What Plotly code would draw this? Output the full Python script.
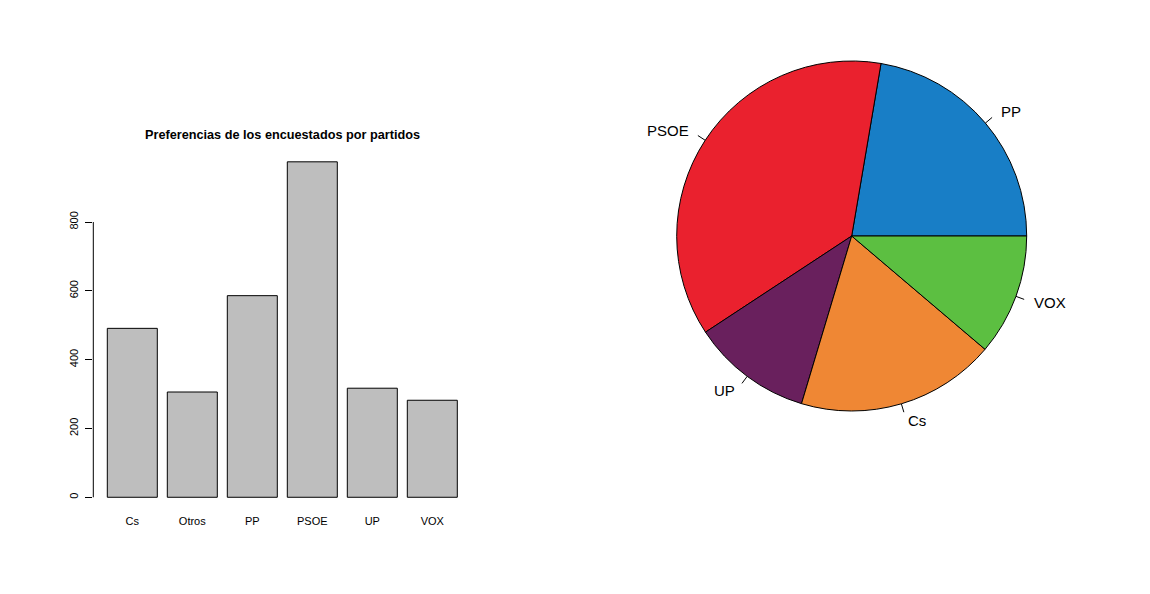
import math
import plotly.graph_objects as go

# bar chart data (respondents per party)
partidos = ["Cs", "Otros", "PP", "PSOE", "UP", "VOX"]
encuestados = [491, 306, 586, 975, 317, 282]
y_ticks = [0, 200, 400, 600, 800]

# pie data (share per party, Otros left out)
pie_partidos = ["PP", "PSOE", "UP", "Cs", "VOX"]
pie_valores = [22.3, 36.9, 11.1, 18.4, 11.2]
pie_colores = ["#187ec6", "#ea212e", "#69205d", "#ef8734", "#5cbf41"]

# page body has an 8px margin, so the figure is a bit smaller than the window
OFF = 8
W, H = 1150 - OFF, 594 - OFF
FONT = "Liberation Sans, Arial, sans-serif"


def px(p):
    return (p - OFF) / W


def py(p):
    return 1 - (p - OFF) / H


fig = go.Figure()

fig.add_trace(go.Bar(
    x=partidos, y=encuestados,
    marker=dict(color="#bebebe", line=dict(color="black", width=1)),
    xaxis="x", yaxis="y", showlegend=False, hoverinfo="x+y",
))

# pie in a 350 px square, first slice starting at 3 o'clock going counterclockwise
total = sum(pie_valores)
pie_dom_x = [px(676.7), px(1026.7)]
pie_dom_y = [py(411), py(61)]
fig.add_trace(go.Pie(
    labels=pie_partidos, values=pie_valores, sort=False,
    direction="counterclockwise", rotation=90 - 360 * pie_valores[0] / total,
    marker=dict(colors=pie_colores, line=dict(color="black", width=1)),
    textinfo="none", showlegend=False,
    domain=dict(x=pie_dom_x, y=pie_dom_y),
))

# R-style labels with short ticks around the pie
cx = (pie_dom_x[0] + pie_dom_x[1]) / 2
cy = (pie_dom_y[0] + pie_dom_y[1]) / 2
rx = (pie_dom_x[1] - pie_dom_x[0]) / 2
ry = (pie_dom_y[1] - pie_dom_y[0]) / 2
acum = 0
annotations = []
shapes = []
for lab, v in zip(pie_partidos, pie_valores):
    mid = 2 * math.pi * (acum + v / 2) / total
    acum += v
    c, s = math.cos(mid), math.sin(mid)
    shapes.append(dict(type="line", xref="paper", yref="paper",
                       x0=cx + rx * c, y0=cy + ry * s,
                       x1=cx + 1.05 * rx * c, y1=cy + 1.05 * ry * s,
                       line=dict(color="black", width=1)))
    annotations.append(dict(xref="paper", yref="paper",
                            x=cx + 1.1 * rx * c, y=cy + 1.1 * ry * s,
                            text=lab, showarrow=False,
                            xanchor="right" if c < 0 else "left", yanchor="middle",
                            font=dict(size=15, color="black", family=FONT)))

# y axis line only from 0 to 800, like R
shapes.append(dict(type="line", xref="x domain", yref="y",
                   x0=0, x1=0, y0=y_ticks[0], y1=y_ticks[-1],
                   line=dict(color="black", width=1)))

annotations.append(dict(xref="paper", yref="paper", x=px(282.3), y=py(135),
                        text="<b>Preferencias de los encuestados por partidos</b>",
                        showarrow=False, xanchor="center", yanchor="middle",
                        font=dict(size=12.7, color="black", family=FONT)))

fig.update_layout(
    width=W, height=H,
    margin=dict(l=0, r=0, t=0, b=0),
    paper_bgcolor="white", plot_bgcolor="white",
    font=dict(family=FONT, color="black"),
    bargap=1 / 6,
    xaxis=dict(domain=[px(93.3), px(471.3)], range=[-0.65, 5.65],
               showgrid=False, zeroline=False, showline=False, ticks="",
               tickfont=dict(size=11), ticklabelstandoff=2),
    yaxis=dict(domain=[py(510.7), py(148.4)], range=[-39, 1014],
               showgrid=False, zeroline=False, showline=False,
               tickvals=y_ticks, ticks="outside", ticklen=7, tickcolor="black",
               tickangle=-90, tickfont=dict(size=11), ticklabelstandoff=3),
    shapes=shapes,
    annotations=annotations,
)

fig.write_html("out.html")
